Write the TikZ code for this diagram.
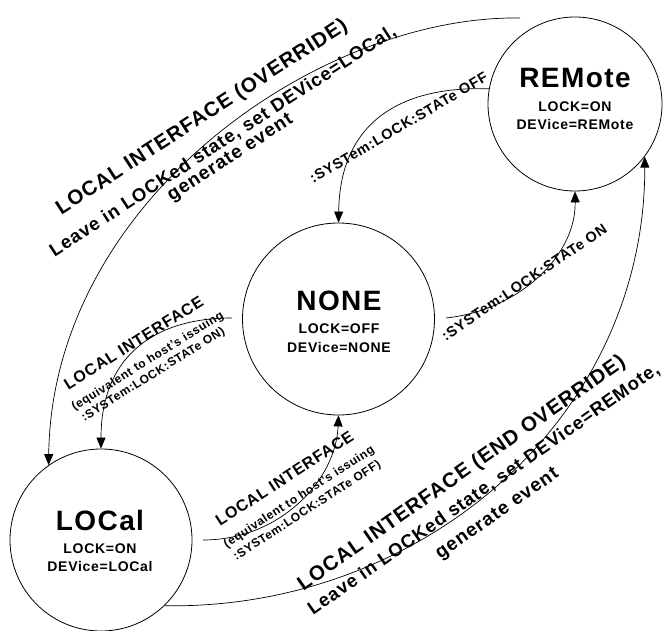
\documentclass[tikz,border=0pt]{standalone}
\usepackage{fontspec}
\setmainfont{Liberation Sans}[LetterSpace=5]
\usetikzlibrary{arrows.meta}
\newcommand\myfs[1]{\fontsize{#1}{#1}\selectfont\bfseries}
\begin{document}
\begin{tikzpicture}[x=1pt,y=-1pt,
  state/.style={circle,draw,line width=0.8pt,minimum size=#1,inner sep=0pt},
  txt/.style={anchor=base,inner sep=0pt,font=\myfs{#1}},
  conn/.style={line width=0.7pt,-{Triangle[length=11pt,width=9pt]}}]
\useasboundingbox (0,0) rectangle (664,631);
% states
\node[state=174pt] (rem) at (575,104) {};
\node[state=192pt] (none) at (338.5,319) {};
\node[state=182pt] (loc) at (101,540) {};
\node[txt=28] (remT) at (575,88) {REMote};
\node[txt=14] (remL) at (575,112) {LOCK=ON};
\node[txt=14] (remD) at (575,130) {DEVice=REMote};
\node[txt=28] (noneT) at (339,310) {NONE};
\node[txt=14] (noneL) at (339,333) {LOCK=OFF};
\node[txt=14] (noneD) at (339,352) {DEVice=NONE};
\node[txt=28] (locT) at (100,530) {LOCal};
\node[txt=14] (locL) at (100,553) {LOCK=ON};
\node[txt=14] (locD) at (100,571) {DEVice=LOCal};
% connectors
\coordinate (ovS) at (520,18);
\coordinate (onS) at (446,318);
\coordinate (eqS) at (232,318);
\coordinate (eqT) at (203,540);
\draw[conn] (ovS) .. controls (320,15) and (52,200) .. (loc.125);
\draw[conn] (rem.170) .. controls (410,86) and (340,115) .. (none.90);
\draw[conn] (onS) .. controls (520,310) and (576,255) .. (rem.270);
\draw[conn] (loc.-46) .. controls (420,610) and (645,420) .. (rem.-37);
\draw[conn] (eqS) .. controls (150,318) and (101,360) .. (loc.90);
\draw[conn] (eqT) .. controls (280,540) and (336,480) .. (none.270);
% labels
\node[txt=20.5,rotate=33] (ov1) at (205,122) {LOCAL INTERFACE (OVERRIDE)};
\node[txt=18.5,rotate=33] (ov2) at (226,146) {Leave in LOCKed state, set DEVice=LOCal,};
\node[txt=19,rotate=33] (ov3) at (233,162) {generate event};
\node[txt=20.5,rotate=35] (eo1) at (465,478) {LOCAL INTERFACE (END OVERRIDE)};
\node[txt=18.5,rotate=35] (eo2) at (487,494) {Leave in LOCKed state, set DEVice=REMote,};
\node[txt=19,rotate=35] (eo3) at (500,518) {generate event};
\node[txt=16,rotate=32] (lq1) at (136.5,347.5) {LOCAL INTERFACE};
\node[txt=12,rotate=32] (lq2) at (149.5,364) {(equivalent to host's issuing};
\node[txt=12,rotate=32] (lq3) at (155,377.5) {:SYSTem:LOCK:STATe ON)};
\node[txt=16,rotate=33] (bq1) at (287.5,483) {LOCAL INTERFACE};
\node[txt=12,rotate=33] (bq2) at (301,500) {(equivalent to host's issuing};
\node[txt=12,rotate=33] (bq3) at (309,513.5) {:SYSTem:LOCK:STATe OFF)};
\node[txt=14.5,rotate=30.5] (off) at (401,132) {:SYSTem:LOCK:STATe OFF};
\node[txt=14.5,rotate=34] (on) at (527,286.5) {:SYSTem:LOCK:STATe ON};
\end{tikzpicture}
\end{document}
